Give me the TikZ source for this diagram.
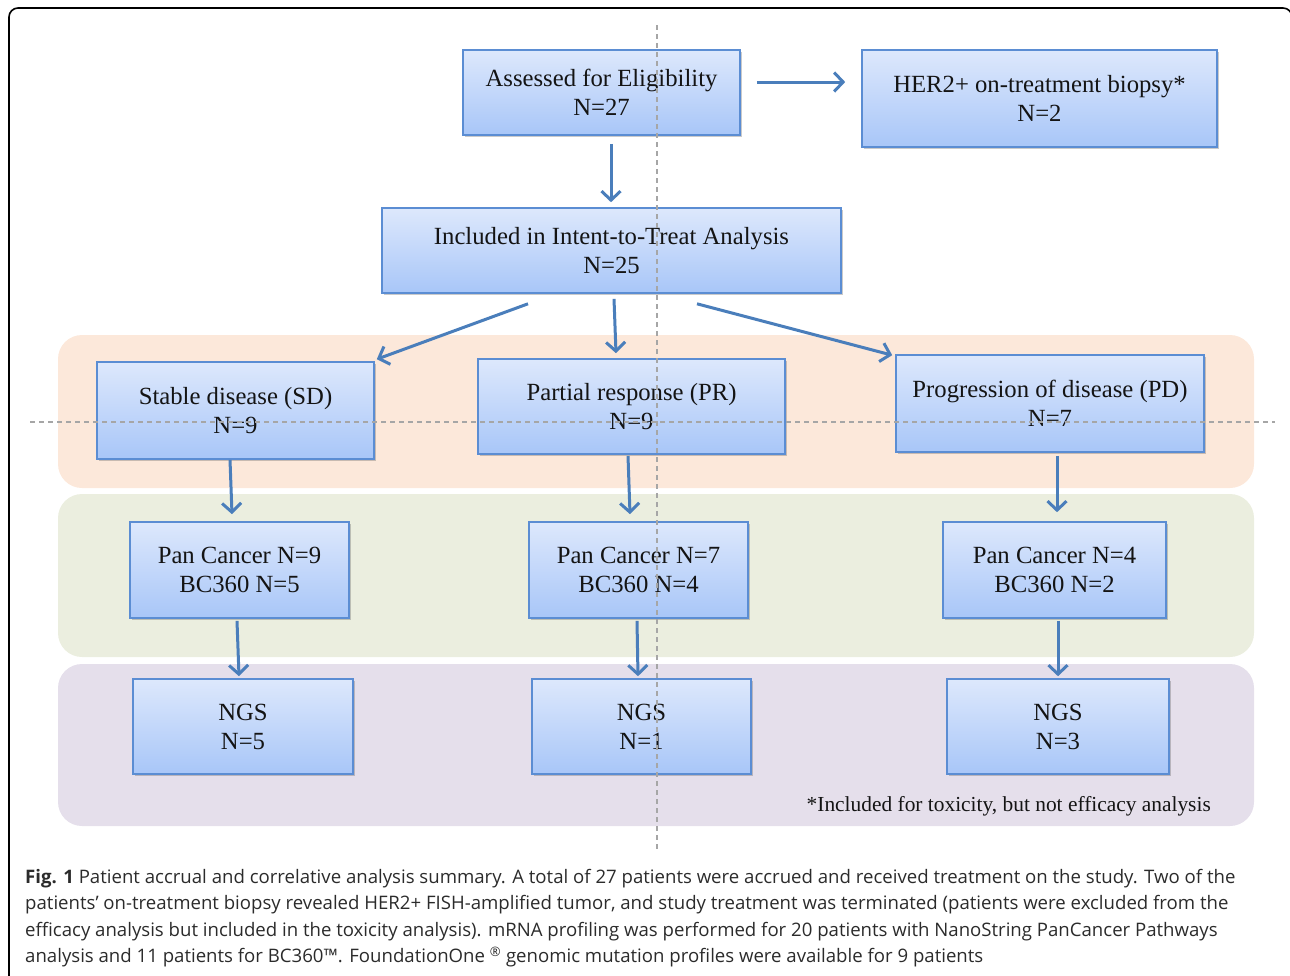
\documentclass[tikz,border=0pt]{standalone}
\usepackage{fontspec}
\setmainfont{Liberation Serif}
\newfontfamily\capfont{Open Sans}
\usetikzlibrary{arrows.meta,shadows}
\definecolor{boxtop}{HTML}{DDE8FC}
\definecolor{boxbot}{HTML}{A8C6F8}
\definecolor{boxline}{HTML}{5B8DD3}
\definecolor{arrcol}{HTML}{4A7EBB}
\definecolor{bandA}{HTML}{FCE8DA}
\definecolor{bandB}{HTML}{EBEEDF}
\definecolor{bandC}{HTML}{E5DFEB}
\definecolor{guide}{HTML}{A6A6A6}
\definecolor{captext}{HTML}{2B2B2B}
\tikzset{
  flowbox/.style={draw=boxline, line width=1.6pt, top color=boxtop, bottom color=boxbot,
    align=center, font=\fontsize{24.7}{29}\selectfont, text=black!92, inner sep=0pt,
    drop shadow={shadow xshift=2pt, shadow yshift=-2pt, opacity=0.35, fill=black!60}},
  arr/.style={draw=arrcol, line width=3pt, -{Straight Barb[length=9pt,width=19pt,line width=3pt]}},
  guideline/.style={draw=guide, line width=1.5pt, dash pattern=on 5pt off 4pt},
  capline/.style={anchor=base west, inner sep=0pt, text=captext, font=\capfont\fontsize{18.6}{26}\selectfont}
}
\begin{document}
\begin{tikzpicture}[x=1pt,y=-1pt]
\useasboundingbox (0,0) rectangle (1290,975);
\clip (0,0) rectangle (1290,975);
% outer frame
\draw[line width=1.6pt, rounded corners=9pt] (9,8) rectangle (1292,1000);
% bands
\fill[bandA, rounded corners=24pt] (58,335) rectangle (1254,488);
\fill[bandB, rounded corners=24pt] (58,494) rectangle (1254,657);
\fill[bandC, rounded corners=24pt] (58,664) rectangle (1254,826);
% boxes
\node[flowbox, minimum width=277pt, minimum height=85pt] (ass) at (601.5,92.5) {Assessed for Eligibility\\N=27};
\node[flowbox, minimum width=355pt, minimum height=97pt] (her) at (1039.5,98.5) {HER2+ on-treatment biopsy*\\N=2};
\node[flowbox, minimum width=459pt, minimum height=85pt] (inc) at (611.5,250.5) {Included in Intent-to-Treat Analysis\\N=25};
\node[flowbox, minimum width=277pt, minimum height=97pt] (sd) at (235.5,410.5) {Stable disease (SD)\\N=9};
\node[flowbox, minimum width=307pt, minimum height=95pt] (pr) at (631.5,406.5) {Partial response (PR)\\N=9};
\node[flowbox, minimum width=308pt, minimum height=97pt] (pd) at (1050,403.5) {Progression of disease (PD)\\N=7};
\node[flowbox, minimum width=219pt, minimum height=96pt] (pc1) at (239.5,570) {Pan Cancer N=9\\BC360 N=5};
\node[flowbox, minimum width=219pt, minimum height=96pt] (pc2) at (638.5,570) {Pan Cancer N=7\\BC360 N=4};
\node[flowbox, minimum width=223pt, minimum height=96pt] (pc3) at (1054.5,570) {Pan Cancer N=4\\BC360 N=2};
\node[flowbox, minimum width=220pt, minimum height=95pt] (ngs1) at (243,726.5) {NGS\\N=5};
\node[flowbox, minimum width=219pt, minimum height=95pt] (ngs2) at (641.5,726.5) {NGS\\N=1};
\node[flowbox, minimum width=222pt, minimum height=95pt] (ngs3) at (1058,726.5) {NGS\\N=3};
% footnote
\node[anchor=base east, inner sep=0pt, font=\fontsize{21.4}{24}\selectfont, text=black!92] (foot) at (1211,811) {*Included for toxicity, but not efficacy analysis};
% arrows
\draw[arr] ([shift={(16,-10.5)}]ass.east) -- ([shift={(-16,-16.5)}]her.west);
\draw[arr] ([shift={(9.5,8)}]ass.south) -- ([shift={(-0.5,-5)}]inc.north);
\draw[arr] ([shift={(-83.5,10)}]inc.south) -- ([shift={(2,-2)}]sd.north east);
\draw[arr] ([shift={(2.5,5)}]inc.south) -- ([shift={(-15.5,-5)}]pr.north);
\draw[arr] ([shift={(85.5,10)}]inc.south) -- ([shift={(-3,1)}]pd.north west);
\draw[arr] ([shift={(-5.5,0)}]sd.south) -- ([shift={(-7.5,-7)}]pc1.north);
\draw[arr] ([shift={(-3.5,1)}]pr.south) -- ([shift={(-8.5,-7)}]pc2.north);
\draw[arr] ([shift={(7,3)}]pd.south) -- ([shift={(2.5,-9)}]pc3.north);
\draw[arr] ([shift={(-2.5,2)}]pc1.south) -- ([shift={(-4,-2)}]ngs1.north);
\draw[arr] ([shift={(-1.5,2)}]pc2.south) -- ([shift={(-3.5,-2)}]ngs2.north);
\draw[arr] ([shift={(3.5,2)}]pc3.south) -- ([shift={(0,-2)}]ngs3.north);
% guide lines
\draw[guideline] (657,25) -- (657,850);
\draw[guideline] (30,422) -- (1275,422);
% caption
\node[capline] (cap1) at (25,883) {\textbf{Fig. 1} Patient accrual and correlative analysis summary. A total of 27 patients were accrued and received treatment on the study. Two of the};
\node[capline] (cap2) at (25,909.5) {patients’ on-treatment biopsy revealed HER2+ FISH-amplified tumor, and study treatment was terminated (patients were excluded from the};
\node[capline] (cap3) at (25,936) {efficacy analysis but included in the toxicity analysis). mRNA profiling was performed for 20 patients with NanoString PanCancer Pathways};
\node[capline] (cap4) at (25,962.5) {analysis and 11 patients for BC360™. FoundationOne \textsuperscript{®} genomic mutation profiles were available for 9 patients};
\end{tikzpicture}
\end{document}
